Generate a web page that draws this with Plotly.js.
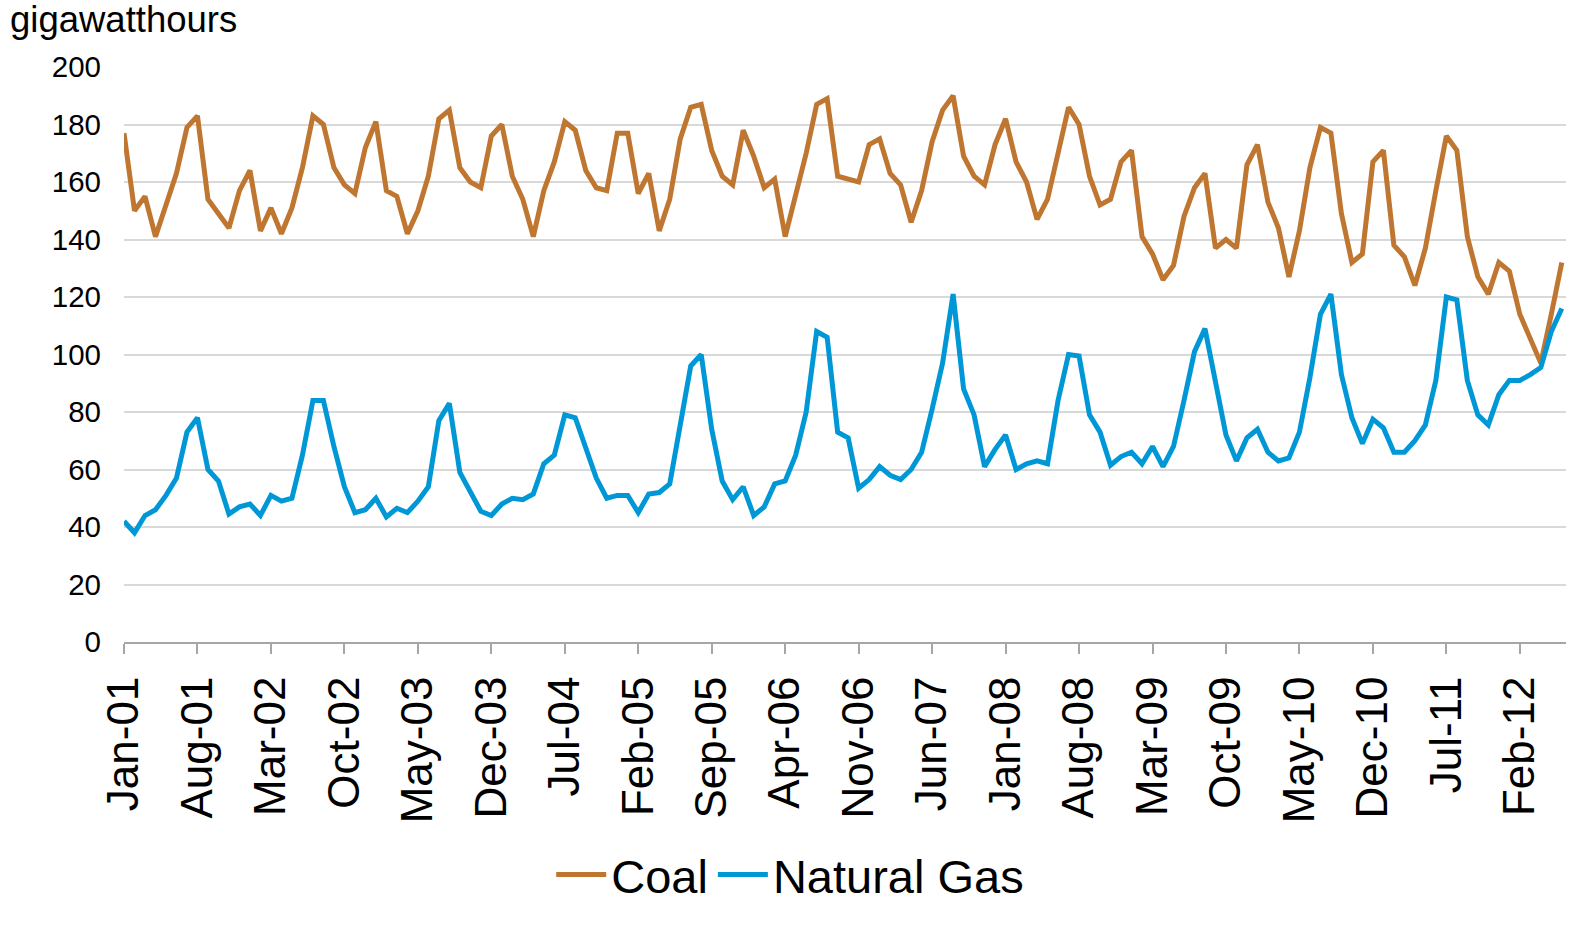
<!DOCTYPE html>
<html>
<head>
<meta charset="utf-8">
<script src="https://cdn.plot.ly/plotly-3.0.1.min.js"></script>
<style>html,body{margin:0;padding:0;background:#fff;overflow:hidden;}#chart{width:1593px;height:925px;}</style>
</head>
<body>
<div id="chart"></div>
<script>
const monthNames = ["Jan","Feb","Mar","Apr","May","Jun","Jul","Aug","Sep","Oct","Nov","Dec"];
const startYear = 2001, monthCount = 138;
const months = [];
for (let i = 0; i < monthCount; i++) {
  const y = startYear + Math.floor(i / 12);
  months.push(monthNames[i % 12] + "-" + String(y % 100).padStart(2, "0"));
}

const coal = [
  177,150,155,141,152,163,179,183,154,149,144,157,
  164,143,151,142,151,165,183,180,165,159,156,172,
  181,157,155,142,150,162,182,185,165,160,158,176,
  180,162,154,141,157,167,181,178,164,158,157,177,
  177,156,163,143,154,175,186,187,171,162,159,178,
  169,158,161,141,156,170,187,189,162,161,160,173,
  175,163,159,146,157,174,185,190,169,162,159,173,
  182,167,160,147,154,170,186,180,162,152,154,167,
  171,141,135,126,131,148,158,163,137,140,137,166,
  173,153,144,127,143,165,179,177,149,132,135,167,
  171,138,134,124,137,157,176,171,141,127,121,132,
  129,114,106,97,114,132
];

const gas = [
  42,38,44,46,51,57,73,78,60,56,44.5,47,
  48,44,51,49,50,65,84,84,68,54,45,46,
  50,43.5,46.5,45,49,54,77,83,59,52,45.5,44,
  48,50,49.5,51.5,62,65,79,78,68,57,50,51,
  51,45,51.5,52,55,76,96,100,74,56,49.5,54,
  44,47,55,56,65,80,108,106,73,71,53.5,56.5,
  61,58,56.5,60,66,81,97,121,88,79,61,67,
  72,60,62,63,62,84,100,99.5,79,73,61.5,64.5,
  66,62,68,61,68,84,101,109,91,72,63,71,
  74,66,63,64,73,92,114,121,93,78,69,77.5,
  74.5,66,66,70,75.5,91,120,119,91,79,75.5,86,
  91,91,93,95.5,108,116
];

const tickLabels = months.filter((m, i) => i % 7 === 0);
const yTicks = [0,20,40,60,80,100,120,140,160,180,200];

const font = "Liberation Sans, Arial, sans-serif";

const traces = [
  {x: months, y: coal, name: "Coal", type: "scatter", mode: "lines",
   line: {color: "#BF7630", width: 5}},
  {x: months, y: gas, name: "Natural Gas", type: "scatter", mode: "lines",
   line: {color: "#0097D7", width: 5}}
];

const layout = {
  width: 1593, height: 925,
  margin: {l: 124, r: 27, t: 67, b: 275},
  paper_bgcolor: "#fff", plot_bgcolor: "#fff",
  font: {family: font, color: "#000"},
  showlegend: true,
  legend: {orientation: "h", x: 0.462, xanchor: "center", y: -0.405, yanchor: "middle",
           font: {size: 47, family: font, color: "#000"}, itemwidth: 50},
  xaxis: {
    type: "category", range: [0, 137.4],
    tickmode: "array", tickvals: tickLabels, ticktext: tickLabels,
    tickangle: -90, tickfont: {size: 44, family: font, color: "#000"},
    ticks: "outside", ticklen: 10, tickwidth: 2, tickcolor: "#a6a6a6",
    ticklabelstandoff: 5,
    showline: true, linecolor: "#a6a6a6", linewidth: 2,
    showgrid: false, zeroline: false
  },
  yaxis: {
    range: [0, 200], tickmode: "array", tickvals: yTicks,
    tickfont: {size: 29.5, family: font, color: "#000"},
    showgrid: true, gridcolor: "#d9d9d9", gridwidth: 2,
    showline: false, zeroline: false, ticks: "", ticklabelstandoff: 22
  },
  annotations: [{
    text: "gigawatthours", xref: "paper", yref: "paper",
    x: -0.0805, xanchor: "left", y: 1, yanchor: "bottom", yshift: 25,
    showarrow: false, font: {size: 36.5, family: font, color: "#000"}
  }]
};

Plotly.newPlot("chart", traces, layout, {displayModeBar: false, staticPlot: true});
</script>
</body>
</html>
